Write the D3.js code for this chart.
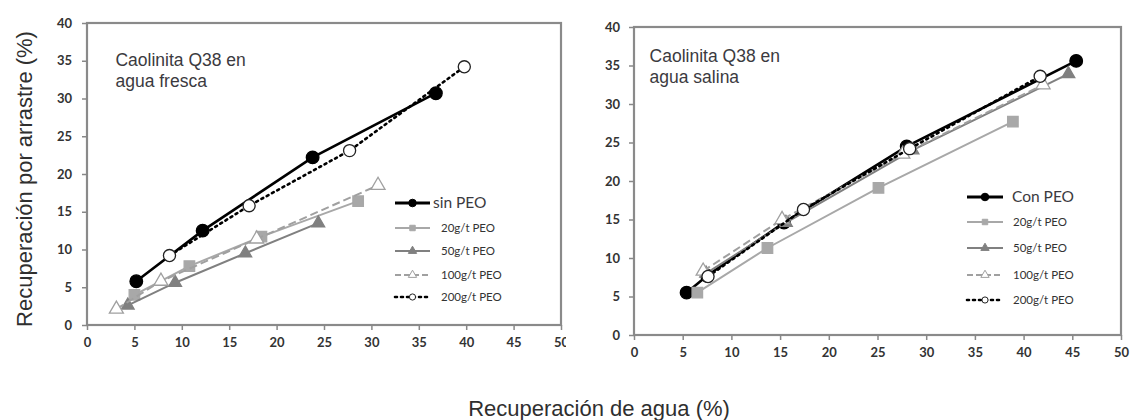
<!DOCTYPE html>
<html>
<head>
<meta charset="utf-8">
<script src="https://cdn.jsdelivr.net/npm/d3@7"></script>
<style>
  body { margin: 0; background: #fff; }
  svg { display: block; }
</style>
</head>
<body>
<svg id="chart" width="1133" height="420"></svg>
<script>
// Axis ticks shared by both panels
const xTickValues = [0, 5, 10, 15, 20, 25, 30, 35, 40, 45, 50];
const yTickValues = [0, 5, 10, 15, 20, 25, 30, 35, 40];

// Panel titles
const freshTitle = ["Caolinita Q38 en", "agua fresca"];
const salineTitle = ["Caolinita Q38 en", "agua salina"];

// Series labels
const freshLabels = ["sin PEO", "20g/t PEO", "50g/t PEO", "100g/t PEO", "200g/t PEO"];
const salineLabels = ["Con PEO", "20g/t PEO", "50g/t PEO", "100g/t PEO", "200g/t PEO"];

// Fresh water: [water recovery %, entrainment recovery %]
const freshNoPEO = [[5.2, 5.8], [12.2, 12.5], [23.8, 22.2], [36.8, 30.7]];
const fresh20 = [[5.0, 4.0], [10.8, 7.8], [18.4, 11.7], [28.6, 16.4]];
const fresh50 = [[4.3, 2.6], [9.3, 5.6], [16.7, 9.5], [24.4, 13.5]];
const fresh100 = [[3.1, 2.1], [7.8, 5.8], [17.9, 11.4], [30.7, 18.5]];
const fresh200 = [[8.7, 9.2], [17.1, 15.8], [27.7, 23.1], [39.8, 34.2]];

// Saline water
const salineConPEO = [[5.4, 5.5], [7.5, 7.7], [15.4, 14.6], [28.0, 24.5], [45.4, 35.6]];
const saline20 = [[6.5, 5.5], [13.7, 11.3], [25.1, 19.1], [38.9, 27.7]];
const saline50 = [[7.4, 8.0], [15.6, 14.6], [28.6, 24.0], [44.6, 33.9]];
const saline100 = [[7.1, 8.3], [15.2, 15.0], [27.6, 23.5], [42.0, 32.5]];
const saline200 = [[7.6, 7.6], [17.4, 16.3], [28.3, 24.2], [41.7, 33.6]];

// Line / marker styles by dose, in legend order
const styles = [
  { stroke: "#000", width: 2.6, dash: null, symbol: d3.symbolCircle, size: 125, fill: "#000", mstroke: "#000" },
  { stroke: "#a8a8a8", width: 2, dash: null, symbol: d3.symbolSquare, size: 110, fill: "#a8a8a8", mstroke: "#a8a8a8" },
  { stroke: "#808080", width: 2, dash: null, symbol: d3.symbolTriangle, size: 70, fill: "#808080", mstroke: "#808080" },
  { stroke: "#a0a0a0", width: 2, dash: "8,4", symbol: d3.symbolTriangle, size: 85, fill: "#fff", mstroke: "#a0a0a0" },
  { stroke: "#000", width: 2.6, dash: "2,4", symbol: d3.symbolCircle, size: 115, fill: "#fff", mstroke: "#222" }
];

const svg = d3.select("#chart");
const defs = svg.append("defs");
defs.append("clipPath").attr("id", "clipFresh")
  .append("rect").attr("x", 0).attr("y", 0).attr("width", 566).attr("height", 420);

const tickFont = "Lato, 'Liberation Sans', sans-serif";

function drawPanel(cfg) {
  const g = svg.append("g");
  if (cfg.clip) g.attr("clip-path", `url(#${cfg.clip})`);

  const x = d3.scaleLinear().domain([0, 50]).range([cfg.left, cfg.right]);
  const y = d3.scaleLinear().domain([0, 40]).range([cfg.bottom, cfg.top]);

  // plot frame
  g.append("rect")
    .attr("x", cfg.left).attr("y", cfg.top)
    .attr("width", cfg.right - cfg.left).attr("height", cfg.bottom - cfg.top)
    .attr("fill", "none").attr("stroke", "#8a8a8a").attr("stroke-width", 2.2);

  const yAxis = g.append("g").attr("transform", `translate(${cfg.left},0)`)
    .call(d3.axisLeft(y).tickValues(yTickValues).tickSize(5).tickPadding(cfg.yPad));
  const xAxis = g.append("g").attr("transform", `translate(0,${cfg.bottom})`)
    .call(d3.axisBottom(x).tickValues(xTickValues).tickSize(5).tickPadding(cfg.xPad));
  [yAxis, xAxis].forEach(a => {
    a.select(".domain").remove();
    a.selectAll(".tick line").attr("stroke", "#888").attr("stroke-width", 1.5);
    a.selectAll(".tick text")
      .attr("fill", "#333")
      .style("font-family", tickFont)
      .style("font-size", "13px")
      .style("font-weight", "bold");
  });

  // title inside the plot
  const t = g.append("text")
    .attr("x", x(cfg.titleX)).attr("y", cfg.titleY)
    .attr("fill", "#3b3a40")
    .style("font-family", "'Liberation Sans', Arial, sans-serif")
    .style("font-size", "17.5px");
  cfg.title.forEach((line, i) => {
    t.append("tspan").attr("x", x(cfg.titleX)).attr("dy", i === 0 ? 0 : 21).text(line);
  });

  const line = d3.line().x(d => x(d[0])).y(d => y(d[1]));

  // series drawn in legend order, later doses overlap earlier ones
  cfg.series.forEach((data, i) => {
    const s = styles[i];
    g.append("path")
      .datum(data)
      .attr("d", line)
      .attr("fill", "none")
      .attr("stroke", s.stroke)
      .attr("stroke-width", s.width)
      .attr("stroke-linecap", s.dash === "2,4" ? "round" : "butt")
      .attr("stroke-dasharray", s.dash);
    g.selectAll(null)
      .data(data)
      .join("path")
      .attr("transform", d => `translate(${x(d[0])},${y(d[1])})`)
      .attr("d", d3.symbol().type(s.symbol).size(s.size))
      .attr("fill", s.fill)
      .attr("stroke", s.mstroke)
      .attr("stroke-width", 1.3);
  });

  // legend
  const lg = g.append("g");
  cfg.labels.forEach((lab, i) => {
    const s = styles[i];
    const ly = cfg.legendRows[i];
    lg.append("line")
      .attr("x1", cfg.legendX0).attr("x2", cfg.legendX1)
      .attr("y1", ly).attr("y2", ly)
      .attr("stroke", s.stroke)
      .attr("stroke-width", i === 0 ? 3 : s.width)
      .attr("stroke-linecap", s.dash === "2,4" ? "round" : "butt")
      .attr("stroke-dasharray", s.dash === "8,4" ? "6,3" : s.dash);
    lg.append("path")
      .attr("transform", `translate(${(cfg.legendX0 + cfg.legendX1) / 2},${ly})`)
      .attr("d", d3.symbol().type(s.symbol).size(i === 0 ? 45 : 30))
      .attr("fill", s.fill)
      .attr("stroke", s.mstroke)
      .attr("stroke-width", 1);
    lg.append("text")
      .attr("x", i === 0 ? cfg.legendTextX0 : cfg.legendTextX)
      .attr("y", ly)
      .attr("dy", "0.35em")
      .attr("fill", i === 0 ? "#3b3a40" : "#333")
      .style("font-family", tickFont)
      .style("font-size", i === 0 ? "15.5px" : "11.5px")
      .text(lab);
  });
}

drawPanel({
  left: 87, right: 561, top: 23, bottom: 325,
  yPad: 10, xPad: 8, clip: "clipFresh",
  title: freshTitle, titleX: 3.0, titleY: 66,
  series: [freshNoPEO, fresh20, fresh50, fresh100, fresh200],
  labels: freshLabels,
  legendX0: 395, legendX1: 430, legendTextX0: 433, legendTextX: 441,
  legendRows: [203, 228, 251, 275, 297]
});

drawPanel({
  left: 634, right: 1121, top: 27, bottom: 335,
  yPad: 9, xPad: 8, clip: null,
  title: salineTitle, titleX: 1.6, titleY: 62,
  series: [salineConPEO, saline20, saline50, saline100, saline200],
  labels: salineLabels,
  legendX0: 967, legendX1: 1003, legendTextX0: 1012, legendTextX: 1013,
  legendRows: [197, 222, 248, 275, 300]
});

// shared axis titles
svg.append("text")
  .attr("transform", "translate(32,179) rotate(-90)")
  .attr("text-anchor", "middle")
  .attr("fill", "#2f2f2f")
  .style("font-family", "'Liberation Sans', Arial, sans-serif")
  .style("font-size", "22px")
  .text("Recuperación por arrastre (%)");

svg.append("text")
  .attr("x", 599).attr("y", 416)
  .attr("text-anchor", "middle")
  .attr("fill", "#2f2f2f")
  .style("font-family", "'Liberation Sans', Arial, sans-serif")
  .style("font-size", "22px")
  .text("Recuperación de agua (%)");
</script>
</body>
</html>
